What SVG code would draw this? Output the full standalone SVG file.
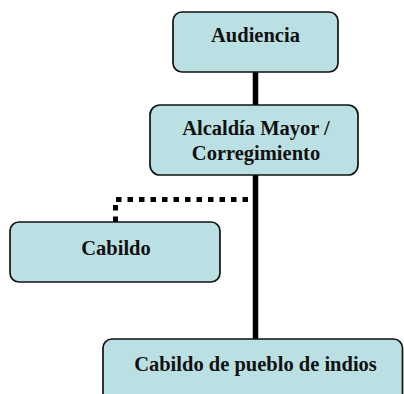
<svg xmlns="http://www.w3.org/2000/svg" width="404" height="394" viewBox="0 0 404 394">
<style>
.box{fill:#BBE0E3;stroke:#111;stroke-width:1.7}
.lbl{font-family:"Liberation Serif","Times New Roman",serif;font-weight:bold;font-size:20.5px;fill:#111;text-anchor:middle}
.solid{fill:none;stroke:#000;stroke-width:5.5}
.dot{fill:none;stroke:#000;stroke-width:5;stroke-dasharray:5.5 6}
</style>
<rect width="404" height="394" fill="#fff"/>
<g id="connectors">
<line class="solid" x1="255.5" y1="72" x2="255.5" y2="339"/>
<path class="dot" d="M115.5 222 V199.5 H252.5"/>
</g>
<g id="audiencia">
<rect class="box" x="173" y="12" width="165" height="60" rx="9"/>
<text class="lbl" x="255.5" y="41.5">Audiencia</text>
</g>
<g id="alcaldia">
<rect class="box" x="150" y="105" width="208" height="70" rx="10"/>
<text class="lbl" x="256" y="135">Alcaldía Mayor /</text>
<text class="lbl" x="256" y="160">Corregimiento</text>
</g>
<g id="cabildo">
<rect class="box" x="10" y="222" width="210" height="60" rx="9"/>
<text class="lbl" x="116" y="255">Cabildo</text>
</g>
<g id="cabildo-indios">
<rect class="box" x="103" y="339" width="299.5" height="70" rx="9"/>
<text class="lbl" x="255.5" y="371">Cabildo de pueblo de indios</text>
</g>
</svg>
